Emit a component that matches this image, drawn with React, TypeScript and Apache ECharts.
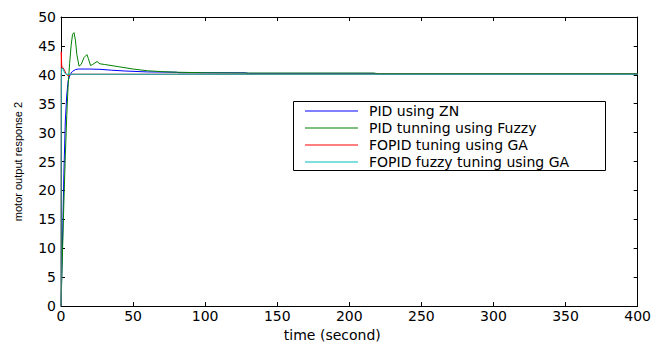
import React, { useEffect, useRef } from "react";
import * as echarts from "echarts";

const seriesNames = [
  "PID using ZN",
  "PID tunning using Fuzzy",
  "FOPID tuning using GA",
  "FOPID fuzzy tuning using GA",
];
const seriesColors = ["#0000ff", "#008000", "#ff0000", "#00bfbf"];

const xTicks = [0, 50, 100, 150, 200, 250, 300, 350, 400];
const yTicks = [0, 5, 10, 15, 20, 25, 30, 35, 40, 45, 50];

const tZN = [0, 1, 2, 3, 4, 5, 6, 7, 8, 10, 12, 20, 27, 35, 45, 60, 80, 82, 128, 130, 217, 220, 400];
const vZN = [0, 10.5, 23, 32, 36.5, 39, 39.8, 40.3, 40.6, 40.9, 41.0, 41.0, 40.95, 40.8, 40.65, 40.5, 40.45, 40.35, 40.35, 40.25, 40.25, 40.15, 40.15];

const tFuzzy = [0, 1, 2, 3, 4, 5, 6, 7, 8, 9, 10, 11, 12.5, 14, 16, 18, 19, 20.5, 22, 25, 27, 30, 40, 50, 60, 70, 80, 100, 130, 217, 220, 400];
const vFuzzy = [0, 9, 18, 26, 33, 38.5, 42, 45, 47, 47.3, 46, 43.5, 41.5, 41.8, 43, 43.5, 42.8, 41.6, 41.8, 42.3, 41.9, 41.8, 41.4, 41.0, 40.7, 40.55, 40.45, 40.35, 40.3, 40.3, 40.2, 40.2];

const tGA = [0, 0.2, 0.5, 2, 3.5, 5, 7, 400];
const vGA = [0, 44, 41.5, 41, 40.2, 39.8, 40.1, 40.1];

const tFuzzyGA = [0, 0.2, 0.6, 1.5, 2.5, 3.5, 400];
const vFuzzyGA = [0, 40, 41.2, 41, 40.3, 40.1, 40.1];

const times = [tZN, tFuzzy, tGA, tFuzzyGA];
const values = [vZN, vFuzzy, vGA, vFuzzyGA];

const FONT = "DejaVu Sans";

export default function App() {
  const ref = useRef<HTMLDivElement>(null);
  useEffect(() => {
    if (!ref.current) return;
    const chart = echarts.init(ref.current, null, { renderer: "svg" });
    const axisCommon = {
      type: "value" as const,
      axisLine: { show: true, onZero: false, lineStyle: { color: "#000", width: 1 } },
      axisTick: { show: true, inside: true, length: 4, lineStyle: { color: "#000" } },
      splitLine: { show: false },
    };
    chart.setOption({
      animation: false,
      backgroundColor: "#fff",
      grid: { left: 61, right: 14, top: 17, bottom: 29, containLabel: false },
      xAxis: [
        {
          ...axisCommon,
          position: "bottom",
          min: xTicks[0],
          max: xTicks[xTicks.length - 1],
          interval: xTicks[1] - xTicks[0],
          axisLabel: { color: "#000", fontFamily: FONT, fontSize: 14, margin: 3 },
          name: "time (second)",
          nameLocation: "middle",
          nameGap: 19,
          nameTextStyle: { color: "#000", fontFamily: FONT, fontSize: 14, padding: [0, 34, 0, 0] },
        },
        {
          ...axisCommon,
          position: "top",
          min: xTicks[0],
          max: xTicks[xTicks.length - 1],
          interval: xTicks[1] - xTicks[0],
          axisLabel: { show: false },
        },
      ],
      yAxis: [
        {
          ...axisCommon,
          position: "left",
          min: yTicks[0],
          max: yTicks[yTicks.length - 1],
          interval: yTicks[1] - yTicks[0],
          axisLabel: { color: "#000", fontFamily: FONT, fontSize: 14, margin: 5 },
          name: "motor output response 2",
          nameLocation: "middle",
          nameGap: 38,
          nameTextStyle: { color: "#000", fontFamily: "Liberation Sans", fontSize: 11 },
        },
        {
          ...axisCommon,
          position: "right",
          min: yTicks[0],
          max: yTicks[yTicks.length - 1],
          interval: yTicks[1] - yTicks[0],
          axisLabel: { show: false },
        },
      ],
      graphic: [
        {
          type: "rect",
          shape: { x: 293.5, y: 101.5, width: 312, height: 69 },
          style: { fill: "#fff", stroke: "#000", lineWidth: 1 },
          z: 3,
        },
      ],
      legend: {
        orient: "vertical",
        left: 305,
        top: 104,
        padding: 0,
        icon: "rect",
        itemWidth: 53,
        itemHeight: 1.2,
        itemGap: 3,
        z: 5,
        data: seriesNames,
        textStyle: { color: "#000", fontFamily: FONT, fontSize: 14, lineHeight: 14, padding: [0, 0, 0, 6] },
      },
      series: seriesNames.map((name, i) => ({
        name,
        type: "line",
        xAxisIndex: 0,
        yAxisIndex: 0,
        symbol: "none",
        showSymbol: false,
        color: seriesColors[i],
        itemStyle: { color: seriesColors[i] },
        lineStyle: { color: seriesColors[i], width: 1 },
        data: times[i].map((t, j) => [t, values[i][j]]),
      })),
    });
    return () => chart.dispose();
  }, []);
  return <div ref={ref} style={{ width: 654, height: 347, position: "absolute", left: 0, top: 0 }} />;
}
